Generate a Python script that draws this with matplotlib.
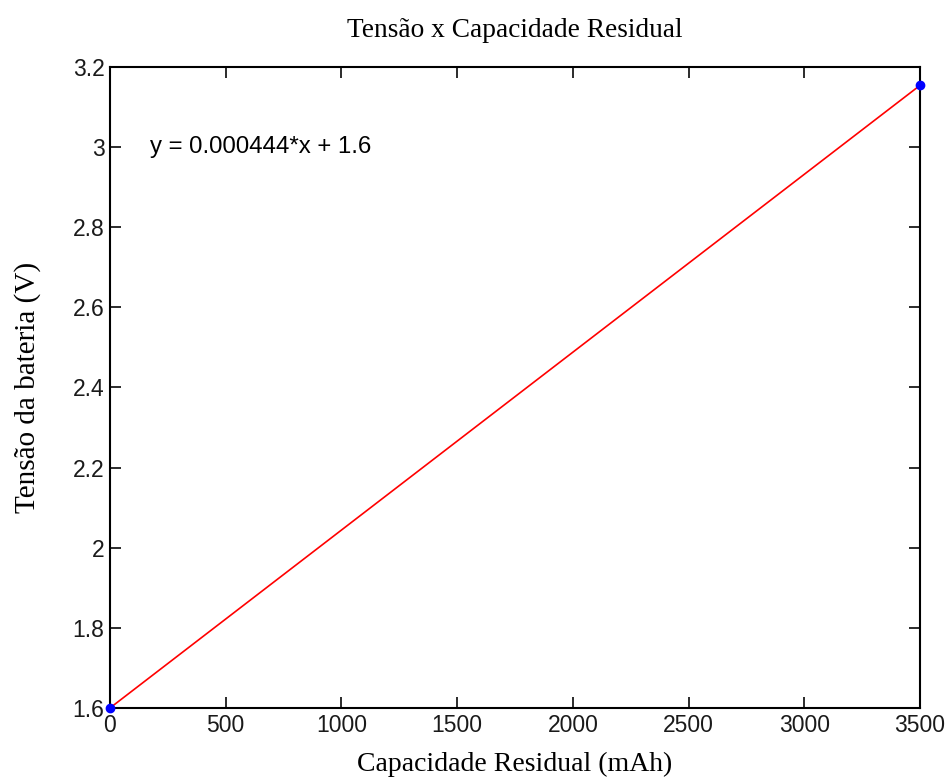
import matplotlib
matplotlib.use('Agg')
import matplotlib.pyplot as plt
import numpy as np

# pontos medidos (extremos) e reta ajustada
x_pts = [0, 3500]
y_pts = [1.6, 3.154]
fit_label = 'y = 0.000444*x + 1.6'

x_ticks = [0, 500, 1000, 1500, 2000, 2500, 3000, 3500]
y_ticks = [1.6, 1.8, 2.0, 2.2, 2.4, 2.6, 2.8, 3.0, 3.2]
y_ticklabels = ['1.6', '1.8', '2', '2.2', '2.4', '2.6', '2.8', '3', '3.2']

serif = ['Liberation Serif', 'DejaVu Serif']
sans = ['Liberation Sans', 'DejaVu Sans']

fig = plt.figure(figsize=(9.48, 7.78), dpi=100)
ax = fig.add_axes([0.116, 0.090, 0.8545, 0.824])

ax.plot(x_pts, y_pts, '-', color='red', lw=1.2, zorder=2)
ax.plot(x_pts, y_pts, 'o', color='blue', ms=6, zorder=3, clip_on=False)

ax.set_xlim(0, 3500)
ax.set_ylim(1.6, 3.2)
ax.set_xticks(x_ticks)
ax.set_xticklabels([str(v) for v in x_ticks], family=sans, fontsize=16.5)
ax.set_yticks(y_ticks)
ax.set_yticklabels(y_ticklabels, family=sans, fontsize=16.5)
ax.tick_params(direction='in', length=8, width=1.3, top=True, right=True,
               pad=4, colors='#1a1a1a')
for s in ax.spines.values():
    s.set_linewidth(1.5)

ax.text(173, 3.0, fit_label, family=sans, fontsize=17.3, va='center', ha='left')

ax.text(0.5, 1.057, 'Tensão x Capacidade Residual', transform=ax.transAxes,
        family=serif, fontsize=19.7, ha='center', va='center')
ax.set_xlabel('Capacidade Residual (mAh)', family=serif, fontsize=20, va='center')
ax.xaxis.set_label_coords(0.5, -0.088)
ax.set_ylabel('Tensão da bateria (V)', family=serif, fontsize=21, va='center')
ax.yaxis.set_label_coords(-0.102, 0.5)

fig.savefig('out.png', dpi=100)
